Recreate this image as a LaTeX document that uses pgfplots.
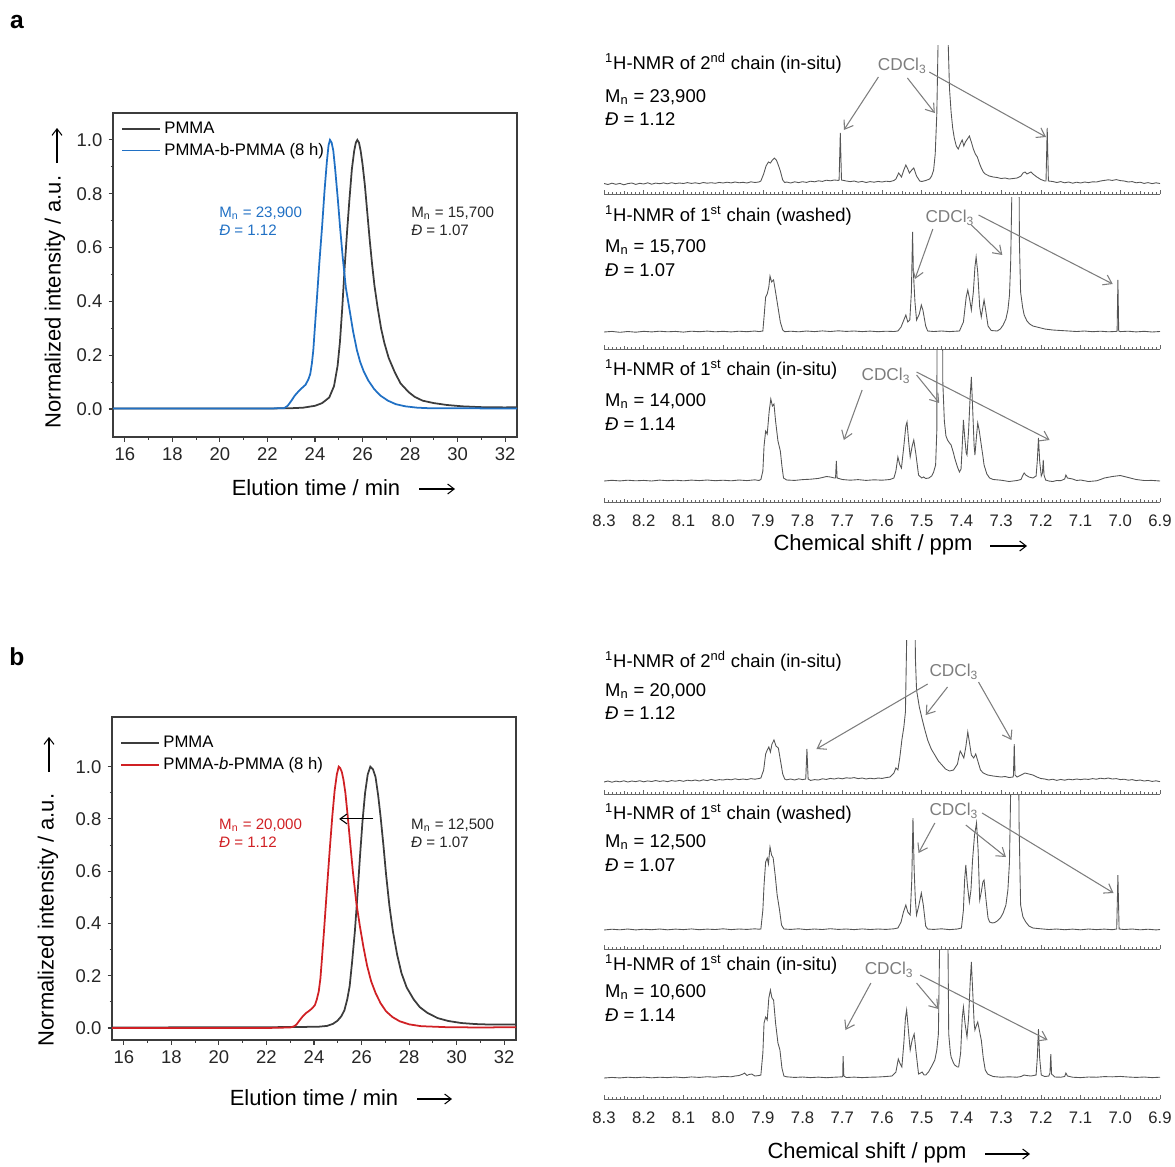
\documentclass[border=0pt]{standalone}
\usepackage{fontspec}
\setmainfont{Liberation Sans}
\usepackage{pgfplots}
\pgfplotsset{compat=1.18}
\usetikzlibrary{arrows.meta}

\definecolor{gpcblue}{RGB}{32,112,196}
\definecolor{gpcred}{RGB}{208,32,36}
\definecolor{gpcgray}{RGB}{60,60,60}
\definecolor{nmrline}{RGB}{85,85,85}
\definecolor{cdgray}{RGB}{125,125,125}
\newcommand\fs[2]{\fontsize{#1}{#2}\selectfont}

\pgfplotsset{
  gpc/.style={scale only axis, width=8.08cm, xmin=15.5, xmax=32.5,
    xtick={16,18,...,32}, minor x tick num=1,
    ytick={0,0.2,0.4,0.6,0.8,1.0}, minor y tick num=1,
    xtick pos=bottom, ytick pos=left, tick align=outside,
    major tick length=0.09cm, minor tick length=0.05cm,
    axis line style={gpcgray, line width=0.6pt},
    every tick/.style={gpcgray, line width=0.6pt},
    tick label style={font=\fs{10.5}{12}, text=black!85},
    /pgf/number format/assume math mode=true,
    yticklabel style={/pgf/number format/.cd, fixed, fixed zerofill, precision=1},
    legend style={draw=none, fill=none, anchor=north west,
      font=\fs{9.5}{11}, inner sep=1pt, row sep=0pt},
    legend cell align=left,
    legend image code/.code={\draw[#1] (0cm,0cm) -- (0.76cm,0cm);},
    clip mode=individual},
  nmr/.style={scale only axis, width=11.12cm, x dir=reverse, xmin=6.9, xmax=8.3,
    axis x line*=bottom, hide y axis, tick align=inside,
    xtick={6.9,7.0,7.1,7.2,7.3,7.4,7.5,7.6,7.7,7.8,7.9,8.0,8.1,8.2,8.3},
    minor x tick num=9,
    major tick length=0.09cm, minor tick length=0.04cm,
    extra x ticks={6.95,7.05,7.15,7.25,7.35,7.45,7.55,7.65,7.75,7.85,7.95,8.05,8.15,8.25},
    extra x tick labels={},
    extra x tick style={major tick length=0.065cm, minor x tick num=0},
    axis line style={black!60, line width=0.5pt},
    every tick/.style={black!60, line width=0.4pt},
    xticklabel style={font=\fs{9.5}{11}, text=black!85, yshift=-4pt, /pgf/number format/.cd, fixed, fixed zerofill, precision=1},
    /pgf/number format/assume math mode=true,
    clip mode=individual}
}
\tikzset{
  spec/.style={nmrline, line width=0.5pt},
  cd/.style={cdgray, line width=0.6pt, -{Straight Barb[length=1.6mm,width=2.2mm]}},
  nmrtxt/.style={anchor=west, font=\fs{10.5}{12}, inner sep=0pt},
  cdtxt/.style={font=\fs{9.8}{11}, text=cdgray, inner sep=0pt},
  lbl/.style={font=\fs{12.5}{14}, inner sep=0pt},
  larr/.style={line width=0.6pt, -{Straight Barb[length=1.3mm,width=2mm]}}
}

\begin{document}
\begin{tikzpicture}
\useasboundingbox (0,0) rectangle (23.5,-23.32);

% ---------------- panel a : GPC ----------------
\begin{axis}[gpc, at={(2.26cm,-8.74cm)}, anchor=south west, height=6.48cm,
  ymin=-0.104, ymax=1.1, legend style={at={(0.015,0.99)}}]
\addplot[gpcgray, line width=1pt] coordinates {
 (15.5,0.002) (20,0.002) (22,0.002) (23,0.003) (23.5,0.005) (24.0,0.012) (24.3,0.022)
 (24.6,0.043) (24.8,0.085) (24.95,0.16) (25.05,0.25) (25.15,0.38) (25.25,0.53) (25.35,0.66)
 (25.45,0.78) (25.55,0.89) (25.65,0.96) (25.72,0.99) (25.78,1.0) (25.85,0.99) (25.92,0.96)
 (26.0,0.91) (26.1,0.83) (26.2,0.73) (26.3,0.63) (26.4,0.54) (26.5,0.46) (26.63,0.38)
 (26.78,0.30) (26.92,0.245) (27.1,0.19) (27.36,0.136) (27.6,0.095) (27.95,0.062) (28.2,0.045)
 (28.53,0.031) (29.0,0.022) (29.55,0.015) (30.2,0.010) (31.0,0.007) (32.0,0.006) (32.5,0.007)};
\addplot[gpcblue, line width=1pt] coordinates {
 (15.5,0.002) (22.0,0.002) (22.7,0.003) (22.85,0.012) (23.0,0.03) (23.15,0.05) (23.3,0.065)
 (23.45,0.078) (23.6,0.09) (23.72,0.11) (23.8,0.13) (23.87,0.17) (23.93,0.22) (24.0,0.31)
 (24.08,0.41) (24.18,0.54) (24.3,0.68) (24.4,0.81) (24.5,0.92) (24.57,0.98) (24.63,1.0)
 (24.7,0.99) (24.77,0.96) (24.85,0.89) (24.96,0.78) (25.06,0.67) (25.17,0.56) (25.3,0.45)
 (25.47,0.36) (25.6,0.29) (25.76,0.22) (25.9,0.175) (26.05,0.14) (26.25,0.105) (26.49,0.074)
 (26.75,0.05) (27.07,0.031) (27.4,0.018) (27.8,0.01) (28.3,0.005) (28.8,0.003) (32.5,0.002)};
\legend{PMMA, PMMA-b-PMMA (8 h)}
\node[anchor=west, font=\fs{8.6}{10}, text=gpcblue, align=left] at (axis cs:19.71,0.697)
  {M\textsubscript{n} = 23,900\\\textit{Đ} = 1.12};
\node[anchor=west, font=\fs{8.6}{10}, text=black!85, align=left] at (axis cs:27.79,0.697)
  {M\textsubscript{n} = 15,700\\\textit{Đ} = 1.07};
\end{axis}

% ---------------- panel b : GPC ----------------
\begin{axis}[gpc, at={(2.24cm,-20.8cm)}, anchor=south west, height=6.46cm,
  ymin=-0.046, ymax=1.19, legend style={at={(0.015,0.958)}}]
\addplot[gpcgray, line width=1pt] coordinates {
 (15.5,0.002) (22.0,0.003) (23.5,0.004) (24.2,0.005) (24.55,0.008) (24.8,0.016) (24.99,0.028)
 (25.15,0.045) (25.28,0.068) (25.4,0.11) (25.5,0.16) (25.6,0.25) (25.72,0.37) (25.83,0.51)
 (25.93,0.65) (26.04,0.79) (26.15,0.9) (26.26,0.97) (26.37,1.0) (26.48,0.99) (26.59,0.96)
 (26.7,0.89) (26.8,0.81) (26.92,0.7) (27.03,0.59) (27.17,0.47) (27.32,0.37) (27.5,0.28)
 (27.68,0.21) (27.9,0.155) (28.19,0.11) (28.45,0.08) (28.77,0.058) (29.2,0.038) (29.64,0.027)
 (30.2,0.019) (30.8,0.015) (31.5,0.013) (32.5,0.013)};
\addplot[gpcred, line width=1pt] coordinates {
 (15.5,0.0) (22.0,0.0) (23.0,0.002) (23.15,0.006) (23.26,0.013) (23.4,0.03) (23.53,0.045)
 (23.68,0.058) (23.83,0.068) (23.95,0.078) (24.04,0.088) (24.12,0.11) (24.2,0.14) (24.27,0.19)
 (24.33,0.26) (24.42,0.37) (24.55,0.54) (24.66,0.68) (24.77,0.81) (24.87,0.91) (24.96,0.97)
 (25.04,1.0) (25.1,0.995) (25.17,0.98) (25.24,0.95) (25.32,0.9) (25.42,0.81) (25.53,0.7)
 (25.64,0.595) (25.78,0.48) (25.93,0.39) (26.08,0.31) (26.23,0.24) (26.4,0.18) (26.59,0.134)
 (26.8,0.095) (27.03,0.064) (27.3,0.042) (27.6,0.026) (28.0,0.014) (28.5,0.007) (29.6,0.003)
 (31.0,0.002) (32.5,0.003)};
\legend{PMMA, PMMA-\textit{b}-PMMA (8 h)}
\draw[black, line width=0.6pt, -{Straight Barb[length=1.4mm,width=2mm]}] (axis cs:26.5,0.8) -- (axis cs:25.06,0.8);
\node[anchor=west, font=\fs{8.6}{10}, text=gpcred, align=left] at (axis cs:19.75,0.745)
  {M\textsubscript{n} = 20,000\\\textit{Đ} = 1.12};
\node[anchor=west, font=\fs{8.6}{10}, text=black!85, align=left] at (axis cs:27.83,0.745)
  {M\textsubscript{n} = 12,500\\\textit{Đ} = 1.07};
\end{axis}

% ---------------- panel a : NMR, 2nd chain (in-situ) ----------------
\begin{axis}[nmr, at={(12.08cm,-3.88cm)}, anchor=south west, height=2.98cm,
  ymin=-10, ymax=139, xticklabels={}]
\addplot[spec] coordinates {
 (8.30,0.5) (8.29,-0.5) (8.28,0.8) (8.27,-0.3) (8.26,0.6) (8.25,-0.8) (8.24,0.4) (8.23,1.0)
 (8.22,-0.4) (8.21,0.7) (8.20,0.0) (8.19,1.2) (8.18,-0.2) (8.17,0.9) (8.16,0.3) (8.15,1.1)
 (8.14,0.2) (8.13,1.3) (8.12,0.4) (8.11,1.0) (8.10,0.5) (8.09,1.4) (8.08,0.6) (8.07,1.2)
 (8.06,0.4) (8.05,1.5) (8.04,0.8) (8.03,1.3) (8.02,0.7) (8.01,1.6) (8.00,1.0) (7.99,1.8)
 (7.98,1.1) (7.97,2.0) (7.96,1.2) (7.95,1.7) (7.94,1.0) (7.93,2.2) (7.92,1.5) (7.91,2.0)
 (7.905,3) (7.898,10) (7.892,18) (7.886,22) (7.881,21) (7.876,24) (7.871,26) (7.866,24)
 (7.862,20) (7.856,13) (7.85,4) (7.845,1.5) (7.84,2.0) (7.83,1.0) (7.82,2.2) (7.81,1.4)
 (7.80,2.3) (7.79,1.6) (7.78,2.8) (7.77,2.2) (7.76,3.2) (7.75,2.6) (7.74,3.8) (7.73,3.2)
 (7.72,4.0) (7.71,3.6) (7.708,4) (7.705,51) (7.702,4) (7.69,3.0) (7.68,2.4) (7.67,3.0)
 (7.66,1.8) (7.65,2.6) (7.64,1.5) (7.63,2.4) (7.62,1.8) (7.61,2.6) (7.60,2.0) (7.59,2.8)
 (7.58,2.4) (7.57,3.5) (7.565,5) (7.558,11) (7.551,7) (7.545,14) (7.54,19) (7.535,15)
 (7.531,11) (7.525,14) (7.52,16) (7.513,8) (7.505,3) (7.50,2.5) (7.49,3.5) (7.48,5)
 (7.475,8) (7.47,14) (7.466,30) (7.462,70) (7.458,160) (7.455,400) (7.44,400) (7.434,150)
 (7.43,95) (7.426,72) (7.422,56) (7.418,46) (7.413,38) (7.408,35) (7.403,40) (7.398,44)
 (7.394,38) (7.39,42) (7.385,45) (7.38,48) (7.375,42) (7.37,35) (7.365,30) (7.36,27)
 (7.355,21) (7.35,16) (7.345,12) (7.34,10) (7.33,8) (7.32,7) (7.31,6.5) (7.30,5.5)
 (7.29,6) (7.28,5) (7.27,5.5) (7.26,6) (7.25,8) (7.245,11) (7.24,12) (7.235,10)
 (7.23,11) (7.225,12) (7.22,10) (7.21,7) (7.20,4.5) (7.19,3) (7.187,3) (7.184,56)
 (7.181,3) (7.17,2.5) (7.16,1.5) (7.15,2.4) (7.14,1.2) (7.13,2.0) (7.12,0.8) (7.11,1.8)
 (7.10,1.0) (7.09,2.0) (7.08,1.4) (7.07,2.2) (7.06,2.0) (7.05,3.0) (7.04,3.6) (7.03,4.2)
 (7.02,3.6) (7.01,4.4) (7.00,3.4) (6.99,3.0) (6.98,2.0) (6.97,2.4) (6.96,1.2) (6.95,1.8)
 (6.94,0.6) (6.93,1.4) (6.92,0.4) (6.91,1.2) (6.90,0.5)};
\node[nmrtxt] at (axis cs:8.298,121) {\textsuperscript{1}H-NMR of 2\textsuperscript{nd} chain (in-situ)};
\node[nmrtxt] at (axis cs:8.298,87) {M\textsubscript{n} = 23,900};
\node[nmrtxt] at (axis cs:8.298,65) {\textit{Đ} = 1.12};
\node[cdtxt] at (axis cs:7.549,118) {CDCl\textsubscript{3}};
\draw[cd] (axis cs:7.609,107) -- (axis cs:7.696,54);
\draw[cd] (axis cs:7.536,106) -- (axis cs:7.467,71);
\draw[cd] (axis cs:7.481,112) -- (axis cs:7.187,47);
\end{axis}

% ---------------- panel a : NMR, 1st chain (washed) ----------------
\begin{axis}[nmr, at={(12.08cm,-6.98cm)}, anchor=south west, height=3.04cm,
  ymin=-17, ymax=135, xticklabels={}]
\addplot[spec] coordinates {
 (8.30,0) (8.28,0.6) (8.26,-0.3) (8.24,0.5) (8.22,-0.2) (8.20,0.7) (8.18,0.1) (8.16,0.8)
 (8.14,0.2) (8.12,0.6) (8.10,-0.1) (8.08,0.8) (8.06,0.3) (8.04,0.9) (8.02,0.2) (8.00,0.7)
 (7.98,0.1) (7.96,0.8) (7.94,0.3) (7.92,1.0) (7.91,0.4) (7.90,1) (7.897,15) (7.893,35)
 (7.889,38) (7.885,45) (7.882,56) (7.878,50) (7.873,52) (7.868,40) (7.862,25) (7.856,10)
 (7.85,2) (7.845,0.3) (7.83,0.8) (7.81,0.2) (7.79,1.0) (7.77,0.4) (7.75,1.1) (7.73,0.5)
 (7.71,1.2) (7.69,0.6) (7.67,1.0) (7.65,0.4) (7.63,0.9) (7.61,0.3) (7.59,0.8) (7.57,0.5)
 (7.56,1) (7.552,5) (7.545,12) (7.54,17) (7.535,10) (7.53,12) (7.526,40) (7.523,100)
 (7.521,60) (7.517,30) (7.513,12) (7.506,18) (7.501,27) (7.497,22) (7.49,6) (7.485,1)
 (7.47,0.5) (7.45,1.0) (7.43,0.4) (7.41,0.9) (7.405,1) (7.395,10) (7.388,35) (7.384,42)
 (7.379,32) (7.375,22) (7.37,40) (7.366,65) (7.363,75) (7.359,60) (7.354,25) (7.35,15)
 (7.346,25) (7.343,32) (7.339,22) (7.333,6) (7.325,1.5) (7.31,1) (7.302,3) (7.295,7)
 (7.288,13) (7.283,22) (7.279,37) (7.276,70) (7.273,140) (7.27,400) (7.258,400) (7.254,90)
 (7.251,40) (7.246,25) (7.242,17) (7.235,11) (7.228,8) (7.22,6) (7.21,5) (7.20,4)
 (7.19,3) (7.17,2) (7.15,1.5) (7.13,1.0) (7.11,0.5) (7.09,1.0) (7.07,0.3) (7.05,0.8)
 (7.03,0.2) (7.01,0.6) (7.008,1) (7.006,52) (7.004,1) (7.00,0.4) (6.98,0.8) (6.96,0.1)
 (6.94,0.7) (6.92,0.0) (6.90,0.5)};
\node[nmrtxt] at (axis cs:8.298,117) {\textsuperscript{1}H-NMR of 1\textsuperscript{st} chain (washed)};
\node[nmrtxt] at (axis cs:8.298,85) {M\textsubscript{n} = 15,700};
\node[nmrtxt] at (axis cs:8.298,62) {\textit{Đ} = 1.07};
\node[cdtxt] at (axis cs:7.429,114) {CDCl\textsubscript{3}};
\draw[cd] (axis cs:7.472,103) -- (axis cs:7.517,53);
\draw[cd] (axis cs:7.375,107) -- (axis cs:7.297,77);
\draw[cd] (axis cs:7.357,117) -- (axis cs:7.019,48);
\end{axis}

% ---------------- panel a : NMR, 1st chain (in-situ) ----------------
\begin{axis}[nmr, at={(12.08cm,-10.04cm)}, anchor=south west, height=3.04cm,
  ymin=-21, ymax=131]
\addplot[spec] coordinates {
 (8.30,0) (8.28,0.7) (8.26,0.1) (8.24,0.8) (8.22,0.2) (8.20,0.6) (8.18,0.0) (8.16,0.9)
 (8.14,0.3) (8.12,0.8) (8.10,0.2) (8.08,0.9) (8.06,0.4) (8.04,1.0) (8.02,0.3) (8.00,0.8)
 (7.98,0.2) (7.96,1.0) (7.94,0.4) (7.92,1.2) (7.91,0.5) (7.905,1.5) (7.90,10) (7.897,35)
 (7.893,50) (7.889,47) (7.884,70) (7.88,82) (7.876,75) (7.872,77) (7.868,60) (7.862,40)
 (7.856,30) (7.852,15) (7.848,3) (7.84,1) (7.82,0.6) (7.80,1.4) (7.78,1.8) (7.76,2.6)
 (7.75,3.5) (7.74,4.5) (7.73,4) (7.72,3) (7.717,3) (7.715,20) (7.713,3) (7.70,1.5)
 (7.68,0.8) (7.66,1.4) (7.64,0.6) (7.62,1.2) (7.60,0.8) (7.58,1.5) (7.57,3) (7.565,10)
 (7.56,24) (7.555,16) (7.551,13) (7.545,35) (7.54,55) (7.537,59) (7.533,40) (7.529,24)
 (7.524,35) (7.52,41) (7.515,28) (7.508,6) (7.5,3) (7.495,4) (7.49,2.5) (7.482,3)
 (7.475,5) (7.47,9) (7.465,16) (7.462,50) (7.46,400) (7.449,400) (7.447,100) (7.443,60)
 (7.439,45) (7.435,41) (7.43,38) (7.426,36) (7.42,28) (7.417,23) (7.41,14) (7.405,9)
 (7.401,12) (7.398,35) (7.395,61) (7.392,45) (7.388,28) (7.386,26) (7.382,50) (7.378,85)
 (7.375,104) (7.372,75) (7.368,35) (7.366,26) (7.362,45) (7.359,58) (7.355,50) (7.35,36)
 (7.346,25) (7.343,16) (7.336,7) (7.329,3) (7.32,1.5) (7.30,0.8) (7.28,-0.5) (7.26,0.5)
 (7.25,1.5) (7.245,6) (7.242,8) (7.238,6) (7.23,4) (7.22,3) (7.212,5) (7.209,20)
 (7.206,43) (7.203,20) (7.199,5) (7.196,8) (7.194,21) (7.192,6) (7.188,1) (7.18,0)
 (7.17,-0.5) (7.16,0.5) (7.15,0.3) (7.14,2) (7.137,6) (7.133,3) (7.12,2) (7.11,0.5)
 (7.10,1.0) (7.08,-0.5) (7.06,0.2) (7.05,1.5) (7.04,3.0) (7.02,4.5) (7.00,5.5) (6.99,4.5)
 (6.98,3.5) (6.96,1.5) (6.94,0.5) (6.92,0.6) (6.90,0.0)};
\node[nmrtxt] at (axis cs:8.298,112) {\textsuperscript{1}H-NMR of 1\textsuperscript{st} chain (in-situ)};
\node[nmrtxt] at (axis cs:8.298,80) {M\textsubscript{n} = 14,000};
\node[nmrtxt] at (axis cs:8.298,57) {\textit{Đ} = 1.14};
\node[cdtxt] at (axis cs:7.59,105) {CDCl\textsubscript{3}};
\draw[cd] (axis cs:7.65,91) -- (axis cs:7.696,41);
\draw[cd] (axis cs:7.513,106) -- (axis cs:7.456,78);
\draw[cd] (axis cs:7.513,109) -- (axis cs:7.178,41);
\end{axis}

% ---------------- panel b : NMR, 2nd chain (in-situ) ----------------
\begin{axis}[nmr, at={(12.08cm,-15.88cm)}, anchor=south west, height=3.08cm,
  ymin=-12, ymax=142, xticklabels={}]
\addplot[spec] coordinates {
 (8.30,0) (8.29,1.0) (8.28,-0.2) (8.27,0.9) (8.26,0.2) (8.25,1.2) (8.24,0.0) (8.23,1.0)
 (8.22,0.4) (8.21,1.3) (8.20,0.2) (8.19,1.1) (8.18,0.5) (8.17,1.5) (8.16,0.6) (8.15,1.2)
 (8.14,0.4) (8.13,1.4) (8.12,0.8) (8.11,1.6) (8.10,0.7) (8.09,1.8) (8.08,1.2) (8.07,2.0)
 (8.06,1.0) (8.05,2.2) (8.04,1.4) (8.03,2.6) (8.02,1.6) (8.01,2.4) (8.00,2.0) (7.99,2.8)
 (7.98,2.2) (7.97,3.2) (7.96,2.4) (7.95,3.0) (7.94,2.4) (7.93,3.4) (7.92,2.8) (7.91,3.5)
 (7.905,4) (7.898,12) (7.893,28) (7.889,32) (7.885,35) (7.881,30) (7.877,38) (7.872,42)
 (7.867,36) (7.861,34) (7.855,20) (7.85,8) (7.845,3) (7.84,2.2) (7.83,3.0) (7.82,2.0)
 (7.81,3.2) (7.80,2.4) (7.792,3) (7.789,33) (7.786,3) (7.78,1.6) (7.77,2.4) (7.76,2.0)
 (7.75,3.2) (7.74,2.6) (7.73,3.6) (7.72,3.0) (7.71,4.0) (7.70,3.2) (7.69,4.2) (7.68,3.8)
 (7.67,4.4) (7.66,3.4) (7.65,4.0) (7.64,3.0) (7.63,3.8) (7.62,3.2) (7.61,4.0) (7.60,3.6)
 (7.59,4.4) (7.58,5) (7.57,9) (7.565,14) (7.56,12) (7.555,25) (7.55,42) (7.545,55)
 (7.541,70) (7.538,140) (7.535,400) (7.52,400) (7.516,125) (7.513,92) (7.506,75) (7.499,63)
 (7.492,52) (7.485,42) (7.476,33) (7.467,27) (7.458,21) (7.449,17) (7.44,13) (7.43,11)
 (7.42,12) (7.41,18) (7.405,28) (7.403,31) (7.399,28) (7.394,24) (7.389,35) (7.384,50)
 (7.38,40) (7.375,27) (7.369,24) (7.364,28) (7.358,20) (7.352,12) (7.345,9) (7.334,7)
 (7.32,6) (7.30,5) (7.29,5.5) (7.28,4.5) (7.27,5) (7.269,7) (7.267,38) (7.265,7)
 (7.26,5) (7.25,7) (7.24,9) (7.23,8) (7.22,7) (7.21,5) (7.20,3.5) (7.19,3.0)
 (7.18,2.0) (7.17,2.8) (7.16,1.6) (7.15,2.6) (7.14,1.8) (7.13,2.8) (7.12,2.2) (7.11,3.0)
 (7.10,2.4) (7.09,3.0) (7.08,2.6) (7.07,3.4) (7.06,2.8) (7.05,3.8) (7.04,3.2) (7.03,4.0)
 (7.02,3.0) (7.01,3.4) (7.00,2.4) (6.99,2.8) (6.98,1.8) (6.97,2.4) (6.96,1.4) (6.95,2.0)
 (6.94,1.0) (6.93,1.6) (6.92,0.6) (6.91,1.2) (6.90,0.4)};
\node[nmrtxt] at (axis cs:8.298,121) {\textsuperscript{1}H-NMR of 2\textsuperscript{nd} chain (in-situ)};
\node[nmrtxt] at (axis cs:8.298,91) {M\textsubscript{n} = 20,000};
\node[nmrtxt] at (axis cs:8.298,69) {\textit{Đ} = 1.12};
\node[cdtxt] at (axis cs:7.419,110) {CDCl\textsubscript{3}};
\draw[cd] (axis cs:7.485,98) -- (axis cs:7.765,33);
\draw[cd] (axis cs:7.435,95) -- (axis cs:7.49,67);
\draw[cd] (axis cs:7.357,100) -- (axis cs:7.274,42);
\end{axis}

% ---------------- panel b : NMR, 1st chain (washed) ----------------
\begin{axis}[nmr, at={(12.08cm,-18.98cm)}, anchor=south west, height=3.08cm,
  ymin=-19, ymax=135, xticklabels={}]
\addplot[spec] coordinates {
 (8.30,0) (8.28,0.8) (8.26,0.2) (8.24,1.0) (8.22,0.1) (8.20,0.8) (8.18,0.3) (8.16,1.0)
 (8.14,0.2) (8.12,0.9) (8.10,0.4) (8.08,1.1) (8.06,0.3) (8.04,0.9) (8.02,0.5) (8.00,1.2)
 (7.98,0.4) (7.96,1.0) (7.94,0.6) (7.92,1.2) (7.91,0.8) (7.905,1) (7.90,20) (7.897,45)
 (7.893,68) (7.889,72) (7.886,66) (7.882,83) (7.878,75) (7.874,72) (7.869,55) (7.864,35)
 (7.858,20) (7.853,5) (7.847,1) (7.83,0.6) (7.81,1.2) (7.79,0.4) (7.77,1.0) (7.75,0.5)
 (7.73,1.3) (7.71,0.6) (7.69,1.0) (7.67,0.4) (7.65,1.1) (7.63,0.5) (7.61,1.0) (7.59,0.6)
 (7.57,1.2) (7.56,2) (7.552,8) (7.546,18) (7.54,25) (7.535,18) (7.529,15) (7.525,50)
 (7.522,112) (7.519,60) (7.516,30) (7.513,15) (7.507,25) (7.501,37) (7.496,25) (7.49,4)
 (7.485,1) (7.47,0.6) (7.45,1.2) (7.43,0.4) (7.41,1.0) (7.40,2) (7.395,20) (7.392,50)
 (7.389,65) (7.385,45) (7.38,28) (7.376,40) (7.372,70) (7.367,95) (7.362,107) (7.358,80)
 (7.354,30) (7.35,38) (7.346,48) (7.343,50) (7.338,30) (7.333,12) (7.329,8) (7.322,7)
 (7.316,7.5) (7.31,9) (7.302,12) (7.295,17) (7.288,25) (7.283,40) (7.279,68) (7.276,140)
 (7.273,400) (7.258,400) (7.255,110) (7.251,25) (7.245,13) (7.238,8) (7.23,4) (7.22,2)
 (7.20,1.2) (7.18,0.5) (7.16,1.0) (7.14,0.3) (7.12,0.9) (7.10,0.2) (7.08,1.0) (7.06,0.4)
 (7.04,0.9) (7.02,0.3) (7.009,1) (7.006,55) (7.003,1) (6.99,0.5) (6.97,1.0) (6.95,0.2)
 (6.93,0.8) (6.91,0.1) (6.90,0.5)};
\node[nmrtxt] at (axis cs:8.298,117) {\textsuperscript{1}H-NMR of 1\textsuperscript{st} chain (washed)};
\node[nmrtxt] at (axis cs:8.298,88) {M\textsubscript{n} = 12,500};
\node[nmrtxt] at (axis cs:8.298,65) {\textit{Đ} = 1.07};
\node[cdtxt] at (axis cs:7.419,119) {CDCl\textsubscript{3}};
\draw[cd] (axis cs:7.467,107) -- (axis cs:7.508,77);
\draw[cd] (axis cs:7.389,105) -- (axis cs:7.288,73);
\draw[cd] (axis cs:7.348,117) -- (axis cs:7.017,37);
\end{axis}

% ---------------- panel b : NMR, 1st chain (in-situ) ----------------
\begin{axis}[nmr, at={(12.08cm,-21.98cm)}, anchor=south west, height=2.98cm,
  ymin=-21, ymax=128]
\addplot[spec] coordinates {
 (8.30,0) (8.28,0.6) (8.26,0.1) (8.24,0.8) (8.22,0.3) (8.20,0.9) (8.18,0.2) (8.16,0.8)
 (8.14,0.4) (8.12,1.0) (8.10,0.3) (8.08,1.1) (8.06,0.6) (8.04,1.3) (8.02,0.8) (8.00,1.6)
 (7.98,1.2) (7.97,2.0) (7.96,2.5) (7.95,4) (7.946,5) (7.94,2.5) (7.935,3.5) (7.928,4)
 (7.92,2.0) (7.91,2.5) (7.905,3) (7.90,25) (7.897,55) (7.893,61) (7.889,58) (7.885,80)
 (7.881,88) (7.877,80) (7.873,78) (7.868,55) (7.862,35) (7.857,28) (7.852,10) (7.847,2)
 (7.84,1.2) (7.82,0.6) (7.80,1.0) (7.78,0.4) (7.76,0.9) (7.74,0.3) (7.72,0.8) (7.70,1.2)
 (7.699,2) (7.698,22) (7.696,2) (7.69,0.5) (7.67,0.9) (7.65,0.4) (7.63,0.8) (7.61,1.0)
 (7.59,1.5) (7.575,2) (7.565,6) (7.559,19) (7.554,14) (7.55,11) (7.545,35) (7.541,60)
 (7.538,68) (7.534,50) (7.529,28) (7.524,38) (7.519,44) (7.514,25) (7.508,4) (7.503,5)
 (7.499,6) (7.494,3) (7.49,3) (7.483,6) (7.476,11) (7.467,18) (7.462,28) (7.458,44)
 (7.455,130) (7.452,400) (7.436,400) (7.434,140) (7.432,44) (7.428,26) (7.426,21) (7.42,15)
 (7.417,13) (7.41,11) (7.407,11) (7.402,25) (7.398,60) (7.395,71) (7.391,55) (7.386,41)
 (7.382,60) (7.378,95) (7.375,116) (7.372,90) (7.368,55) (7.366,48) (7.362,53) (7.359,56)
 (7.355,48) (7.35,38) (7.345,20) (7.34,8) (7.334,4) (7.329,3) (7.32,1.5) (7.30,0.8)
 (7.28,1.2) (7.26,0.8) (7.25,1.5) (7.242,3) (7.236,2.5) (7.225,2) (7.212,3) (7.209,20)
 (7.206,49) (7.203,20) (7.199,3) (7.19,1.5) (7.18,2) (7.177,5) (7.175,24) (7.173,4)
 (7.165,1) (7.15,0.8) (7.14,1.5) (7.137,5) (7.133,2) (7.12,0.8) (7.10,0.4) (7.08,1.0)
 (7.06,0.8) (7.04,1.4) (7.02,1.2) (7.00,1.6) (6.98,1.0) (6.96,0.6) (6.94,1.0) (6.92,0.4)
 (6.90,0.8)};
\node[nmrtxt] at (axis cs:8.298,114) {\textsuperscript{1}H-NMR of 1\textsuperscript{st} chain (in-situ)};
\node[nmrtxt] at (axis cs:8.298,86) {M\textsubscript{n} = 10,600};
\node[nmrtxt] at (axis cs:8.298,63) {\textit{Đ} = 1.14};
\node[cdtxt] at (axis cs:7.582,108) {CDCl\textsubscript{3}};
\draw[cd] (axis cs:7.628,95) -- (axis cs:7.692,48);
\draw[cd] (axis cs:7.513,95) -- (axis cs:7.458,69);
\draw[cd] (axis cs:7.504,103) -- (axis cs:7.183,38);
\end{axis}

% ---------------- outer labels ----------------
\node[font=\bfseries\fs{14}{16}] at (0.34,-0.44) {a};
\node[font=\bfseries\fs{14}{16}] at (0.34,-13.14) {b};
% GPC a
\node[lbl, rotate=90] at (1.1,-6.04) {Normalized intensity / a.u.};
\draw[larr] (1.14,-3.26) -- (1.14,-2.56);
\node[lbl] at (6.32,-9.76) {Elution time / min};
\draw[larr] (8.38,-9.78) -- (9.1,-9.78);
% GPC b
\node[lbl, rotate=90] at (0.96,-18.4) {Normalized intensity / a.u.};
\draw[larr] (0.98,-15.44) -- (0.98,-14.74);
\node[lbl] at (6.28,-21.96) {Elution time / min};
\draw[larr] (8.34,-21.98) -- (9.04,-21.98);
% NMR x labels
\node[lbl] at (17.46,-10.9) {Chemical shift / ppm};
\draw[larr] (19.8,-10.92) -- (20.54,-10.92);
\node[lbl] at (17.34,-23.06) {Chemical shift / ppm};
\draw[larr] (19.7,-23.08) -- (20.6,-23.08);
\end{tikzpicture}
\end{document}
